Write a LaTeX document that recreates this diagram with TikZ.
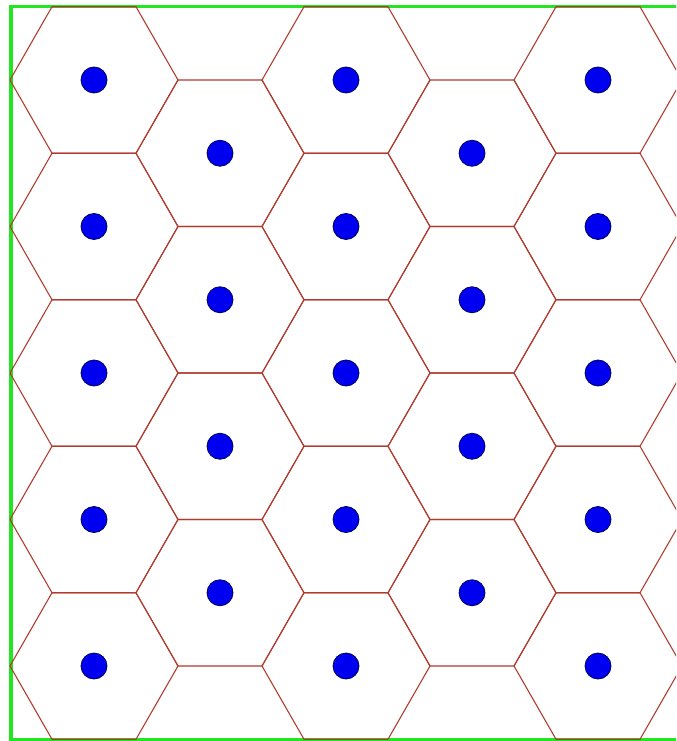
\documentclass[tikz,border=0pt]{standalone}
\usepackage{xcolor}
\usepackage{tikz}
\definecolor{cellc}{HTML}{B03A2E}
\definecolor{framec}{HTML}{22E622}
\definecolor{sitec}{HTML}{0000F0}
\definecolor{sited}{HTML}{00005A}
\tikzset{
  boxline/.style={framec,line width=2.3pt},
  cell/.style={cellc,line width=0.8pt,line join=miter},
  site/.style={circle,fill=sitec,draw=sited,line width=0.6pt,minimum size=19.5pt,inner sep=0pt}
}
\begin{document}
\begin{tikzpicture}[x=0.75pt,y=-0.75pt]
\useasboundingbox (0,0) rectangle (676,741);
\clip (0,0) rectangle (676,741);
\fill[white] (0,0) rectangle (676,741);
% outer frame, right side runs past the picture
\draw[boxline] (11,6.5) rectangle (700,739.5);
% cells of the even columns
\foreach \cx in {94,346,598}
  \foreach \r in {0,...,4} {
    \pgfmathsetmacro\cy{80+146.5*\r}
    \draw[cell,shift={(\cx,\cy)}] (-84,0) -- (-42,-73.25) -- (42,-73.25) -- (84,0)
      -- (42,73.25) -- (-42,73.25) -- cycle;
    \node[site] (site-\cx-\r) at (\cx,\cy) {};
  }
% cells of the odd columns
\foreach \cx in {220,472}
  \foreach \r in {0,...,3} {
    \pgfmathsetmacro\cy{153.25+146.5*\r}
    \draw[cell,shift={(\cx,\cy)}] (-84,0) -- (-42,-73.25) -- (42,-73.25) -- (84,0)
      -- (42,73.25) -- (-42,73.25) -- cycle;
    \node[site] (site-\cx-\r) at (\cx,\cy) {};
  }
\end{tikzpicture}
\end{document}
